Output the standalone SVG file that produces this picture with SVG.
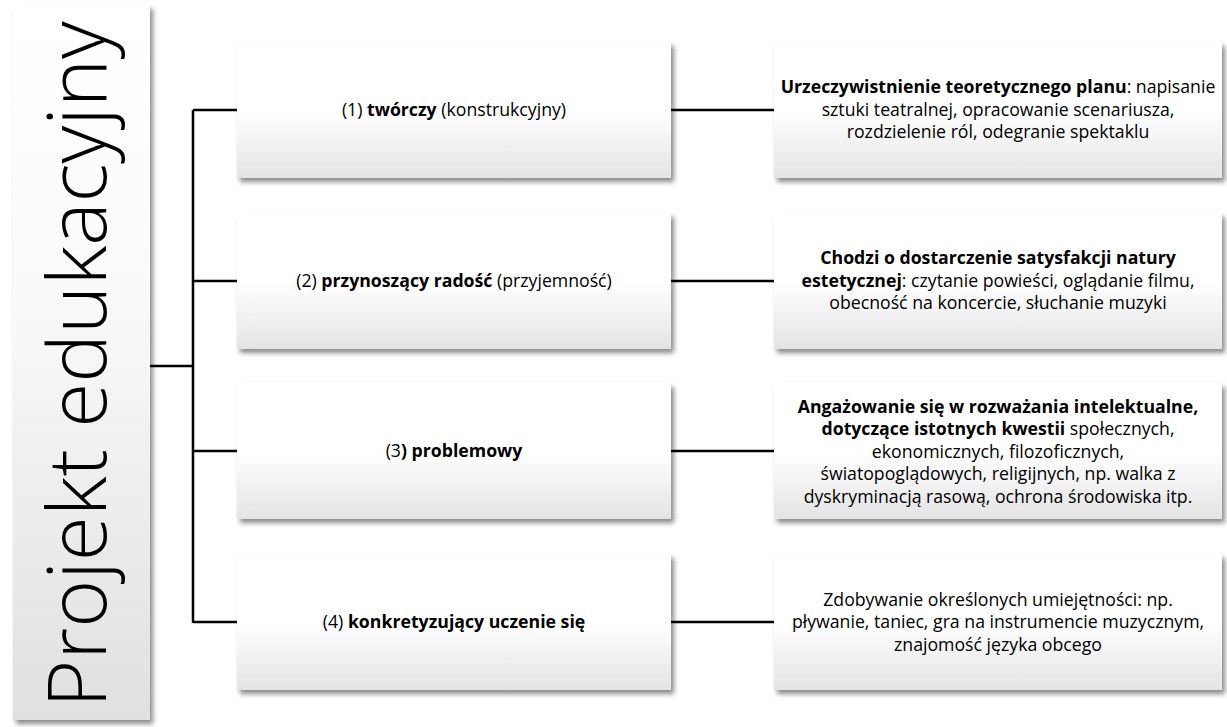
<svg xmlns="http://www.w3.org/2000/svg" width="1227" height="727" viewBox="0 0 1227 727">
<defs>
<linearGradient id="g" x1="0" y1="0" x2="0" y2="1">
<stop offset="0" stop-color="#ffffff"/>
<stop offset="0.5" stop-color="#ffffff"/>
<stop offset="1" stop-color="#e4e4e4"/>
</linearGradient>
<linearGradient id="gl" x1="0" y1="0" x2="0" y2="1">
<stop offset="0" stop-color="#ffffff"/>
<stop offset="0.4" stop-color="#fafafa"/>
<stop offset="1" stop-color="#e0e0e0"/>
</linearGradient>
<filter id="sh" x="-10%" y="-10%" width="125%" height="130%">
<feDropShadow dx="3" dy="4" stdDeviation="2.5" flood-color="#000" flood-opacity="0.45"/>
</filter>
</defs>
<style>
.box{fill:url(#g);filter:url(#sh)}
.t{font-family:"Open Sans","Liberation Sans",sans-serif;font-size:17.7px;fill:#000;text-anchor:middle}
.b{font-weight:bold}
.ln{stroke:#000;stroke-width:2.5;fill:none}
</style>
<g id="connectors">
<path class="ln" d="M150 366H193M193 110V623M193 110H237M193 281H237M193 451H237M193 622H237"/>
<path class="ln" d="M671 110H774M671 281H774M671 451H774M671 622H774"/>
</g>
<g id="root">
<rect x="13" y="5" width="137" height="715" fill="url(#gl)" filter="url(#sh)"/>
<text transform="translate(106,364.5) rotate(-90)" font-family="'Open Sans','Liberation Sans',sans-serif" font-size="82" font-weight="300" text-anchor="middle" fill="#000">Projekt edukacyjny</text>
</g>
<g id="n1">
<rect class="box" x="237" y="42" width="434" height="136"/>
<text class="t" x="454" y="116">(1) <tspan class="b">twórczy</tspan> (konstrukcyjny)</text>
</g>
<g id="n2">
<rect class="box" x="237" y="213" width="434" height="136"/>
<text class="t" x="454" y="287">(2) <tspan class="b">przynoszący radość</tspan> (przyjemność)</text>
</g>
<g id="n3">
<rect class="box" x="237" y="383" width="434" height="136"/>
<text class="t" x="454" y="457">(3<tspan class="b">) problemowy</tspan></text>
</g>
<g id="n4">
<rect class="box" x="237" y="554" width="434" height="136"/>
<text class="t" x="454" y="628">(4) <tspan class="b">konkretyzujący uczenie się</tspan></text>
</g>
<g id="d1">
<rect class="box" x="774" y="42" width="448" height="136"/>
<text class="t" x="998" y="93"><tspan class="b">Urzeczywistnienie teoretycznego planu</tspan>: napisanie</text>
<text class="t" x="998" y="116">sztuki teatralnej, opracowanie scenariusza,</text>
<text class="t" x="998" y="138">rozdzielenie ról, odegranie spektaklu</text>
</g>
<g id="d2">
<rect class="box" x="774" y="213" width="448" height="136"/>
<text class="t b" x="998" y="264">Chodzi o dostarczenie satysfakcji natury</text>
<text class="t" x="998" y="287"><tspan class="b">estetycznej</tspan>: czytanie powieści, oglądanie filmu,</text>
<text class="t" x="998" y="309">obecność na koncercie, słuchanie muzyki</text>
</g>
<g id="d3">
<rect class="box" x="774" y="383" width="448" height="136"/>
<text class="t b" x="998" y="413">Angażowanie się w rozważania intelektualne,</text>
<text class="t" x="998" y="435"><tspan class="b">dotyczące istotnych kwestii</tspan> społecznych,</text>
<text class="t" x="998" y="458">ekonomicznych, filozoficznych,</text>
<text class="t" x="998" y="480">światopoglądowych, religijnych, np. walka z</text>
<text class="t" x="998" y="503">dyskryminacją rasową, ochrona środowiska itp.</text>
</g>
<g id="d4">
<rect class="box" x="774" y="554" width="448" height="136"/>
<text class="t" x="998" y="606">Zdobywanie określonych umiejętności: np.</text>
<text class="t" x="998" y="628">pływanie, taniec, gra na instrumencie muzycznym,</text>
<text class="t" x="998" y="651">znajomość języka obcego</text>
</g>
</svg>
